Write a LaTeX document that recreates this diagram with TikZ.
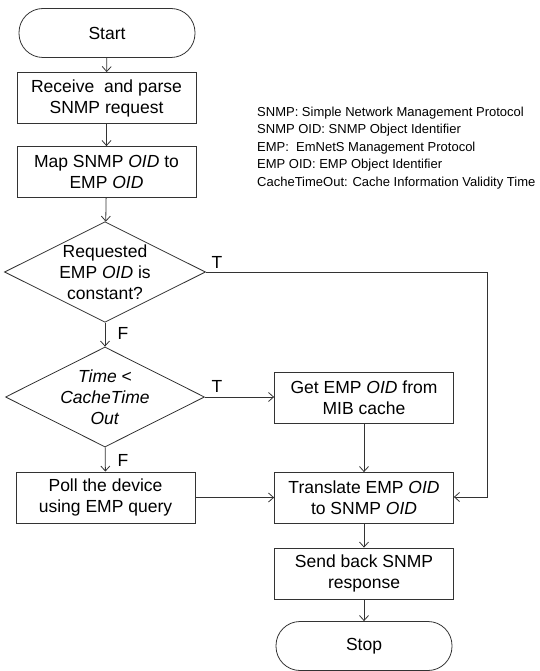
\documentclass[tikz,border=0pt]{standalone}
\usepackage{fontspec}
\setmainfont{Liberation Sans}
\usetikzlibrary{shapes.geometric,arrows.meta}
\begin{document}
\begin{tikzpicture}[x=1pt,y=-1pt,
  line/.style={draw=black!80,line width=0.8pt},
  flow/.style={line,-{Straight Barb[length=5pt,width=9pt]}},
  bigtext/.style={font=\fontsize{17.5}{21}\selectfont},
  procbox/.style={line,bigtext,rectangle,minimum width=179pt,minimum height=51pt,inner sep=0pt,align=center},
  terminal/.style={line,bigtext,rectangle,rounded corners=24pt,minimum width=176pt,minimum height=49pt,inner sep=0pt},
  decision/.style={line,bigtext,diamond,aspect=2,minimum width=196pt,minimum height=100pt,inner sep=0pt,align=center},
  branch/.style={bigtext,inner sep=0pt},
  legend/.style={font=\fontsize{13}{17.5}\selectfont,anchor=west,inner sep=0pt}
]
\useasboundingbox (0,0) rectangle (539,671);

% main column
\node[terminal] (start) at (107,33) {Start};
\node[procbox] (recv) at (106.5,98) {Receive\ \ and parse\\SNMP request};
\node[procbox] (map) at (106.5,172) {Map SNMP \textit{OID} to\\EMP \textit{OID}};
\node[decision] (const) at (105,272) {Requested\\EMP \textit{OID} is\\constant?};
\node[decision] (time) at (105,397) {\textit{Time} <\\\textit{CacheTime}\\\textit{Out}};
\node[procbox] (poll) at (105.5,497.5) {Poll the device\\using EMP query};

% right column
\node[procbox] (cache) at (364,397.5) {Get EMP \textit{OID} from\\MIB cache};
\node[procbox] (trans) at (364,498) {Translate EMP \textit{OID}\\to SNMP \textit{OID}};
\node[procbox] (send) at (364,573.5) {Send back SNMP\\response};
\node[terminal] (stop) at (364,646) {Stop};

% abbreviations
\node[legend] (l1) at (257,113) {SNMP: Simple Network Management Protocol};
\node[legend] (l2) at (257,130.5) {SNMP OID: SNMP Object Identifier};
\node[legend] (l3) at (257,148) {EMP:\ \ EmNetS Management Protocol};
\node[legend] (l4) at (257,165.5) {EMP OID: EMP Object Identifier};
\node[legend] (l5) at (257,183) {CacheTimeOut: Cache Information Validity Time};

% branch labels
\node[branch] (t1) at (217,262) {T};
\node[branch] (f1) at (123,333) {F};
\node[branch] (t2) at (217,386) {T};
\node[branch] (f2) at (123,460) {F};

% connectors
\coordinate (corner1) at (487,272);
\coordinate (corner2) at (487,497);
\draw[flow] (start) -- (recv);
\draw[flow] (recv) -- (map);
\draw[flow] (map) -- (const);
\draw[flow] (const) -- (time);
\draw[flow] (time) -- (poll);
\draw[flow] (time.east) -- (cache.west |- time.east);
\draw[flow] (cache) -- (trans);
\draw[flow] (poll.east) -- (trans.west |- poll.east);
\draw[flow] (const.east) -- (corner1) -- (corner2) -- (trans.east |- corner2);
\draw[flow] (trans) -- (send);
\draw[flow] (send) -- (stop);
\end{tikzpicture}
\end{document}
